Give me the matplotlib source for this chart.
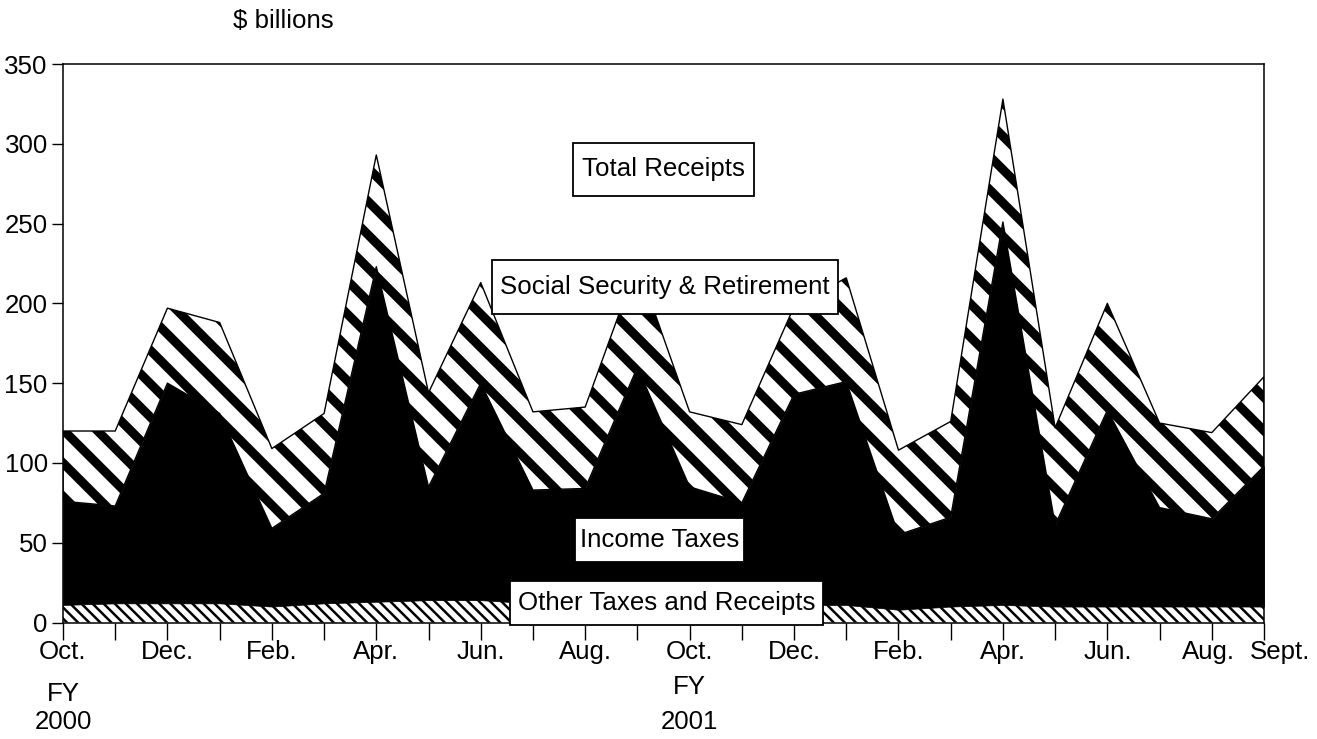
import numpy as np
import matplotlib
matplotlib.use("Agg")
import matplotlib.pyplot as plt
from matplotlib.patches import Rectangle
from matplotlib.transforms import IdentityTransform

plt.rcParams['font.family'] = ['Liberation Sans', 'DejaVu Sans']

months = ["Oct.", "Nov.", "Dec.", "Jan.", "Feb.", "Mar.", "Apr.", "May", "Jun.", "Jul.", "Aug.", "Sept.",
          "Oct.", "Nov.", "Dec.", "Jan.", "Feb.", "Mar.", "Apr.", "May", "Jun.", "Jul.", "Aug.", "Sept."]
total_receipts = [120, 120, 197, 188, 109, 131, 293, 144, 213, 132, 135, 225,
                  132, 124, 198, 216, 108, 126, 328, 122, 200, 125, 119, 154]
income_plus_other = [76, 73, 150, 131, 59, 81, 223, 85, 150, 83, 84, 160,
                     85, 75, 143, 151, 55, 66, 251, 61, 133, 72, 65, 98]
other_taxes = [11, 12, 12, 12, 10, 12, 13, 14, 14, 12, 12, 12,
               12, 11, 11, 11, 8, 10, 11, 10, 10, 10, 10, 10]

labelled = {0: "Oct.", 2: "Dec.", 4: "Feb.", 6: "Apr.", 8: "Jun.", 10: "Aug.",
            12: "Oct.", 14: "Dec.", 16: "Feb.", 18: "Apr.", 20: "Jun.", 22: "Aug.", 23: "Sept."}

other = np.array(other_taxes, float)
income = np.array(income_plus_other, float) - other
social = np.array(total_receipts, float) - np.array(income_plus_other, float)
x = np.arange(len(months))

fig = plt.figure(figsize=(13.17, 7.39), dpi=100)
ax = fig.add_axes([63/1317, 1 - 622.5/739, (1264-63)/1317, (622.5-64)/739])

l1 = other
l2 = l1 + income
l3 = l2 + social

def hatched(lo, hi, hatch, hlw, lw):
    with plt.rc_context({'hatch.linewidth': hlw}):
        c = ax.fill_between(x, lo, hi, facecolor='white', edgecolor='black',
                            hatch=hatch, linewidth=lw, zorder=2)
    if hasattr(c, 'set_hatch_linewidth'):
        c.set_hatch_linewidth(hlw)
    return c

hatched(np.zeros_like(l1), l1, '\\\\\\', 1.8, 0)
ax.fill_between(x, l1, l2, facecolor='black', edgecolor='black', linewidth=0.5, zorder=2)
hatched(l2, l3, '\\', 6.5, 1.0)

ax.set_xlim(0, 23)
ax.set_ylim(0, 350)
ax.set_yticks([0, 50, 100, 150, 200, 250, 300, 350])
fs = 18.6
ax.tick_params(axis='y', direction='out', length=8, width=1, labelsize=fs, pad=3)
ax.set_xticks(x)
ax.set_xticklabels([])
ax.tick_params(axis='x', direction='out', length=12, width=1)
for s in ax.spines.values():
    s.set_linewidth(1.1)
    s.set_zorder(5)

tr = ax.get_xaxis_transform()
for i, lab in labelled.items():
    xi = i + (0.3 if lab == "Sept." else 0)
    if i == 22:
        xi = i - 0.06
    ax.text(xi, -0.0528, lab, transform=tr, ha='center', va='center', fontsize=fs, clip_on=False)
ax.text(0, -0.128, "FY", transform=tr, ha='center', va='center', fontsize=fs, clip_on=False)
ax.text(0, -0.178, "2000", transform=tr, ha='center', va='center', fontsize=fs, clip_on=False)
ax.text(12, -0.1146, "FY", transform=tr, ha='center', va='center', fontsize=fs, clip_on=False)
ax.text(12, -0.178, "2001", transform=tr, ha='center', va='center', fontsize=fs, clip_on=False)

# (label, x, y, horizontal pad px, vertical pad px)
labels = [("Total Receipts", 11.5, 284, 9.5, 14.5),
          ("Social Security & Retirement", 11.53, 210, 8, 15),
          ("Income Taxes", 11.42, 51.5, 5, 10),
          ("Other Taxes and Receipts", 11.56, 12.5, 8, 10)]
texts = []
for lab, lx, ly, px, py in labels:
    t = ax.text(lx, ly, lab, ha='center', va='center', fontsize=fs, zorder=7)
    texts.append((t, px, py))

fig.text(283/1317, 1 - 21/739, "$ billions", ha='center', va='center', fontsize=fs)

fig.canvas.draw()
for t, px, py in texts:
    bb = t.get_window_extent()
    r = Rectangle((bb.x0 - px, bb.y0 - py), bb.width + 2*px, bb.height + 2*py,
                  transform=IdentityTransform(), facecolor='white', edgecolor='black',
                  linewidth=1.3, zorder=6, clip_on=False)
    ax.add_artist(r)

fig.savefig("out.png", dpi=100)
